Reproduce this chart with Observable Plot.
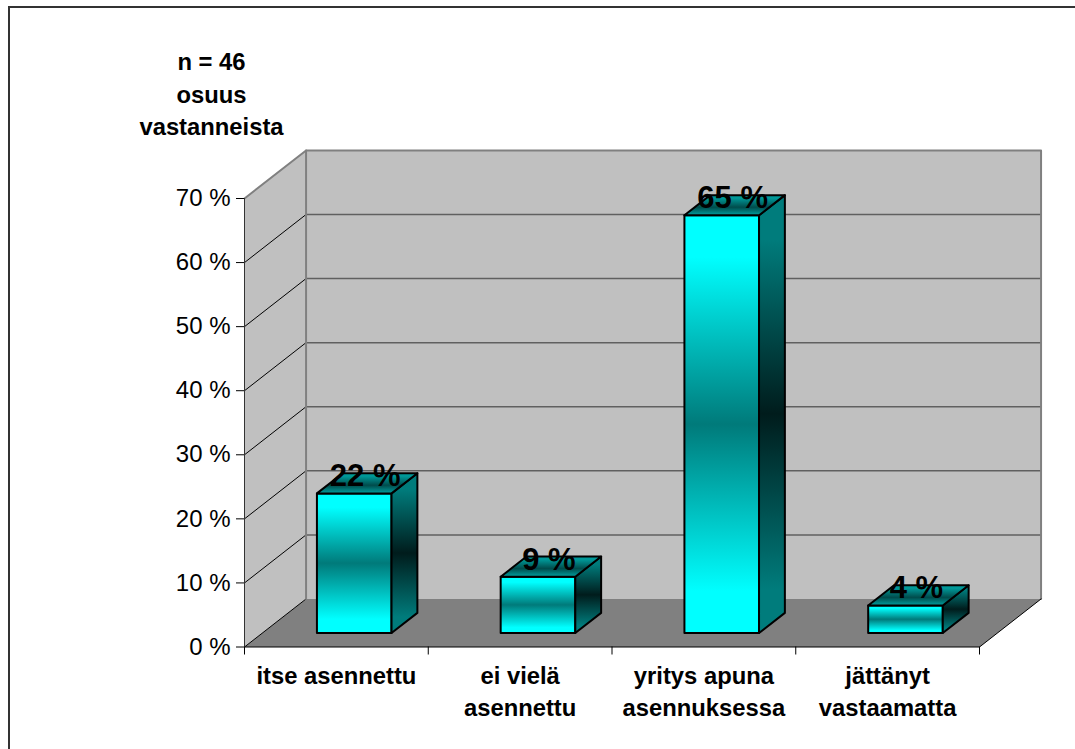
<!DOCTYPE html>
<html>
<head>
<meta charset="utf-8">
<script src="https://cdn.jsdelivr.net/npm/d3@7"></script>
<script src="https://cdn.jsdelivr.net/npm/@observablehq/plot@0.6"></script>
<style>
html,body{margin:0;padding:0;background:#fff;}
#wrap{position:relative;width:1075px;height:749px;overflow:hidden;}
#wrap svg{position:absolute;left:0;top:0;background:transparent;}
#border{position:absolute;left:8px;top:6px;width:1100px;height:800px;border-top:2px solid #333;border-left:2px solid #333;}
</style>
</head>
<body>
<div id="wrap"><div id="border"></div></div>
<script>
const categories = ["itse asennettu", "ei vielä\nasennettu", "yritys apuna\nasennuksessa", "jättänyt\nvastaamatta"];
const values = [21.8, 8.8, 65.2, 4.3];
const yTicks = [0, 10, 20, 30, 40, 50, 60, 70];
const xTicks = [0, 1, 2, 3, 4];
const titleLines = "n = 46\nosuus\nvastanneista";

// oblique projection of the 3D box, in scale units
const depthX = 0.335, depthY = 7.5;
const P = (u, v, d) => ({x: u + depthX * d, y: v + depthY * d});
const barU0 = 0.297, barU1 = 0.703, barD0 = 0.29, barD1 = 0.71;

const poly = (id, pts) => [...pts, pts[0]].map(p => ({...p, id}));
const backWall = poly("back", [P(0,0,1), P(4,0,1), P(4,70,1), P(0,70,1)]);
const leftWall = poly("left", [P(0,0,0), P(0,0,1), P(0,70,1), P(0,70,0)]);
const floor = poly("floor", [P(0,0,0), P(4,0,0), P(4,0,1), P(0,0,1)]);

const fronts = values.flatMap((v,i) => poly(i, [P(i+barU0,0,barD0), P(i+barU1,0,barD0), P(i+barU1,v,barD0), P(i+barU0,v,barD0)]));
const sides  = values.flatMap((v,i) => poly(i, [P(i+barU1,0,barD0), P(i+barU1,0,barD1), P(i+barU1,v,barD1), P(i+barU1,v,barD0)]));
const tops   = values.flatMap((v,i) => poly(i, [P(i+barU0,v,barD0), P(i+barU1,v,barD0), P(i+barU1,v,barD1), P(i+barU0,v,barD1)]));

const gridBack = yTicks.slice(1, -1).flatMap(t => [{...P(0,t,1), t}, {...P(4,t,1), t}]);
const gridLeft = yTicks.slice(0, -1).flatMap(t => [{...P(0,t,0), t}, {...P(0,t,1), t}]);
const wallEdge = [P(0,70,0), P(0,70,1), P(4,70,1), P(4,0,1)];
const backLeftEdge = [P(0,70,1), P(0,0,1)];
const floorEdge = [P(4,0,0), P(4,0,1)];

const labels = values.map((v,i) => ({...P(i + 0.5, v, 0.5), text: Math.round(v) + " %"}));
const catLabels = categories.map((c,i) => ({x: i + 0.5, y: 0, text: c}));

function gradient(id, stops) {
  return `<linearGradient id="${id}" x1="0" y1="0" x2="0" y2="1">` +
    stops.map(([o,c]) => `<stop offset="${o}" stop-color="${c}"/>`).join("") + `</linearGradient>`;
}
const defsMark = () => {
  const g = document.createElementNS("http://www.w3.org/2000/svg", "defs");
  g.innerHTML =
    gradient("gFront", [[0,"#00ffff"],[0.1,"#00ffff"],[0.5,"#007a7a"],[0.9,"#00ffff"],[1,"#00ffff"]]) +
    gradient("gSide", [[0,"#007c7c"],[0.1,"#007c7c"],[0.5,"#001c1c"],[0.9,"#007c7c"],[1,"#007c7c"]]) +
    gradient("gTop", [[0,"#009898"],[0.15,"#009898"],[0.6,"#004c4c"],[1,"#00a0a0"]]);
  return g;
};

const fontFamily = "'Liberation Sans', Arial, sans-serif";

const chart = Plot.plot({
  width: 1075,
  height: 749,
  marginLeft: 244,
  marginRight: 96,
  marginTop: 198,
  marginBottom: 102.5,
  style: {fontFamily, background: "transparent", overflow: "visible"},
  x: {type: "linear", domain: [0, 4], axis: null},
  y: {type: "linear", domain: [0, 70], axis: null},
  marks: [
    defsMark,
    Plot.line(backWall, {x: "x", y: "y", z: "id", fill: "#c0c0c0", stroke: "none"}),
    Plot.line(leftWall, {x: "x", y: "y", z: "id", fill: "#c0c0c0", stroke: "none"}),
    Plot.line(floor, {x: "x", y: "y", z: "id", fill: "#808080", stroke: "none"}),
    Plot.line(gridBack, {x: "x", y: "y", z: "t", stroke: "#606060", strokeWidth: 1.5}),
    Plot.line(gridLeft, {x: "x", y: "y", z: "t", stroke: "#000", strokeWidth: 1}),
    Plot.line(wallEdge, {x: "x", y: "y", stroke: "#808080", strokeWidth: 2}),
    Plot.line(backLeftEdge, {x: "x", y: "y", stroke: "#808080", strokeWidth: 2}),
    Plot.line(floorEdge, {x: "x", y: "y", stroke: "#000", strokeWidth: 1}),
    Plot.axisY({ticks: yTicks, label: null, tickSize: 8, tickPadding: 6, tickFormat: d => d + " %", fontSize: 24, color: "#000", stroke: "#000"}),
    Plot.axisX({ticks: xTicks, label: null, tickSize: 8, tickFormat: () => "", stroke: "#000", anchor: "bottom"}),
    Plot.ruleX([0], {y1: 0, y2: 70, stroke: "#333", strokeWidth: 1}),
    Plot.ruleY([0], {x1: 0, x2: 4, stroke: "#000", strokeWidth: 1}),
    Plot.line(fronts, {x: "x", y: "y", z: "id", fill: "url(#gFront)", stroke: "#000", strokeWidth: 2}),
    Plot.line(sides, {x: "x", y: "y", z: "id", fill: "url(#gSide)", stroke: "#000", strokeWidth: 2}),
    Plot.line(tops, {x: "x", y: "y", z: "id", fill: "url(#gTop)", stroke: "#000", strokeWidth: 2}),
    Plot.text(labels, {x: "x", y: "y", text: "text", fontSize: 31, fontWeight: "bold", fill: "#000", dx: -2, dy: -7}),
    Plot.text(catLabels, {x: "x", y: "y", text: "text", fontSize: 23.8, fontWeight: "bold", fill: "#000", lineAnchor: "top", lineHeight: 1.36, dy: 14}),
    Plot.text([titleLines], {frameAnchor: "top-left", text: d => d, fontSize: 23.8, fontWeight: "bold", fill: "#000", textAnchor: "middle", lineAnchor: "top", lineHeight: 1.36, dx: -33, dy: -151})
  ]
});
document.getElementById("wrap").appendChild(chart);
</script>
</body>
</html>
